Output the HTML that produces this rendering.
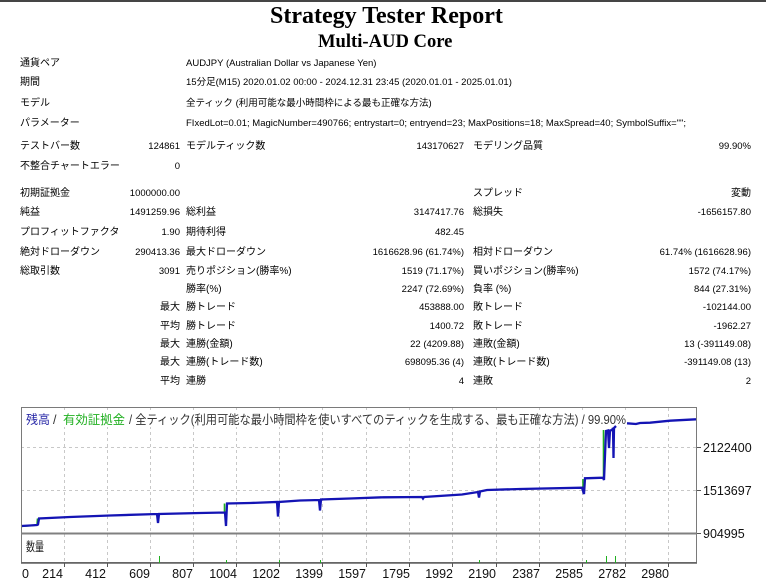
<!DOCTYPE html>
<html>
<head>
<meta charset="utf-8">
<style>
html,body{margin:0;padding:0;background:#fff;}
body{width:766px;height:579px;overflow:hidden;position:relative;font-family:"Liberation Sans","Noto Sans CJK JP",sans-serif;color:#000;}
.t{position:absolute;white-space:nowrap;line-height:12px;height:12px;font-size:10px;}
.n{font-size:9.5px;}
.r{text-align:right;}
#bar{position:absolute;left:0;top:0;width:766px;height:2px;background:#454545;}
.title{position:absolute;font-family:"Liberation Serif","Noto Serif CJK SC",serif;font-weight:bold;white-space:nowrap;}
svg{position:absolute;left:0;top:0;}
</style>
</head>
<body>
<div id="bar"></div>
<div class="title" style="left:270px;top:2px;font-size:24px;line-height:28px;">Strategy Tester Report</div>
<div class="title" style="left:318px;top:31px;font-size:18.6px;line-height:22px;">Multi-AUD Core</div>

<div class="t" style="left:20px;top:58px;">通貨ペア</div>
<div class="t n" style="left:186px;top:58px;">AUDJPY (Australian Dollar vs Japanese Yen)</div>
<div class="t" style="left:20px;top:77px;">期間</div>
<div class="t n" style="left:186px;top:77px;">15分足(M15) 2020.01.02 00:00 - 2024.12.31 23:45 (2020.01.01 - 2025.01.01)</div>
<div class="t" style="left:20px;top:98px;">モデル</div>
<div class="t n" style="left:186px;top:98px;">全ティック (利用可能な最小時間枠による最も正確な方法)</div>
<div class="t" style="left:20px;top:118px;">パラメーター</div>
<div class="t n" style="left:186px;top:118px;">FIxedLot=0.01; MagicNumber=490766; entrystart=0; entryend=23; MaxPositions=18; MaxSpread=40; SymbolSuffix="";</div>

<div class="t" style="left:20px;top:141px;">テストバー数</div>
<div class="t n r" style="right:586px;top:141px;">124861</div>
<div class="t" style="left:186px;top:141px;">モデルティック数</div>
<div class="t n r" style="right:302px;top:141px;">143170627</div>
<div class="t" style="left:473px;top:141px;">モデリング品質</div>
<div class="t n r" style="right:15px;top:141px;">99.90%</div>

<div class="t" style="left:20px;top:161px;">不整合チャートエラー</div>
<div class="t n r" style="right:586px;top:161px;">0</div>

<div class="t" style="left:20px;top:188px;">初期証拠金</div>
<div class="t n r" style="right:586px;top:188px;">1000000.00</div>
<div class="t" style="left:473px;top:188px;">スプレッド</div>
<div class="t r" style="right:15px;top:188px;">変動</div>

<div class="t" style="left:20px;top:207px;">純益</div>
<div class="t n r" style="right:586px;top:207px;">1491259.96</div>
<div class="t" style="left:186px;top:207px;">総利益</div>
<div class="t n r" style="right:302px;top:207px;">3147417.76</div>
<div class="t" style="left:473px;top:207px;">総損失</div>
<div class="t n r" style="right:15px;top:207px;">-1656157.80</div>

<div class="t" style="left:20px;top:227px;">プロフィットファクタ</div>
<div class="t n r" style="right:586px;top:227px;">1.90</div>
<div class="t" style="left:186px;top:227px;">期待利得</div>
<div class="t n r" style="right:302px;top:227px;">482.45</div>

<div class="t" style="left:20px;top:247px;">絶対ドローダウン</div>
<div class="t n r" style="right:586px;top:247px;">290413.36</div>
<div class="t" style="left:186px;top:247px;">最大ドローダウン</div>
<div class="t n r" style="right:302px;top:247px;">1616628.96 (61.74%)</div>
<div class="t" style="left:473px;top:247px;">相対ドローダウン</div>
<div class="t n r" style="right:15px;top:247px;">61.74% (1616628.96)</div>

<div class="t" style="left:20px;top:266px;">総取引数</div>
<div class="t n r" style="right:586px;top:266px;">3091</div>
<div class="t" style="left:186px;top:266px;">売りポジション(勝率%)</div>
<div class="t n r" style="right:302px;top:266px;">1519 (71.17%)</div>
<div class="t" style="left:473px;top:266px;">買いポジション(勝率%)</div>
<div class="t n r" style="right:15px;top:266px;">1572 (74.17%)</div>

<div class="t" style="left:186px;top:284px;">勝率(%)</div>
<div class="t n r" style="right:302px;top:284px;">2247 (72.69%)</div>
<div class="t" style="left:473px;top:284px;">負率 (%)</div>
<div class="t n r" style="right:15px;top:284px;">844 (27.31%)</div>

<div class="t r" style="right:586px;top:302px;">最大</div>
<div class="t" style="left:186px;top:302px;">勝トレード</div>
<div class="t n r" style="right:302px;top:302px;">453888.00</div>
<div class="t" style="left:473px;top:302px;">敗トレード</div>
<div class="t n r" style="right:15px;top:302px;">-102144.00</div>

<div class="t r" style="right:586px;top:321px;">平均</div>
<div class="t" style="left:186px;top:321px;">勝トレード</div>
<div class="t n r" style="right:302px;top:321px;">1400.72</div>
<div class="t" style="left:473px;top:321px;">敗トレード</div>
<div class="t n r" style="right:15px;top:321px;">-1962.27</div>

<div class="t r" style="right:586px;top:339px;">最大</div>
<div class="t" style="left:186px;top:339px;">連勝(金額)</div>
<div class="t n r" style="right:302px;top:339px;">22 (4209.88)</div>
<div class="t" style="left:473px;top:339px;">連敗(金額)</div>
<div class="t n r" style="right:15px;top:339px;">13 (-391149.08)</div>

<div class="t r" style="right:586px;top:357px;">最大</div>
<div class="t" style="left:186px;top:357px;">連勝(トレード数)</div>
<div class="t n r" style="right:302px;top:357px;">698095.36 (4)</div>
<div class="t" style="left:473px;top:357px;">連敗(トレード数)</div>
<div class="t n r" style="right:15px;top:357px;">-391149.08 (13)</div>

<div class="t r" style="right:586px;top:376px;">平均</div>
<div class="t" style="left:186px;top:376px;">連勝</div>
<div class="t n r" style="right:302px;top:376px;">4</div>
<div class="t" style="left:473px;top:376px;">連敗</div>
<div class="t n r" style="right:15px;top:376px;">2</div>

<svg width="766" height="579" viewBox="0 0 766 579" xmlns="http://www.w3.org/2000/svg">
  <g stroke="#c8c8c8" stroke-width="1" stroke-dasharray="3,3" fill="none">
    <line x1="21" y1="447.5" x2="697" y2="447.5"/>
    <line x1="21" y1="490.5" x2="697" y2="490.5"/>
    <line x1="64.5" y1="408" x2="64.5" y2="563"/>
    <line x1="107.5" y1="408" x2="107.5" y2="563"/>
    <line x1="150.5" y1="408" x2="150.5" y2="563"/>
    <line x1="193.5" y1="408" x2="193.5" y2="563"/>
    <line x1="236.5" y1="408" x2="236.5" y2="563"/>
    <line x1="279.5" y1="408" x2="279.5" y2="563"/>
    <line x1="322.5" y1="408" x2="322.5" y2="563"/>
    <line x1="366.5" y1="408" x2="366.5" y2="563"/>
    <line x1="409.5" y1="408" x2="409.5" y2="563"/>
    <line x1="452.5" y1="408" x2="452.5" y2="563"/>
    <line x1="496.5" y1="408" x2="496.5" y2="563"/>
    <line x1="539.5" y1="408" x2="539.5" y2="563"/>
    <line x1="582.5" y1="408" x2="582.5" y2="563"/>
    <line x1="625.5" y1="408" x2="625.5" y2="563"/>
    <line x1="668.5" y1="408" x2="668.5" y2="563"/>
  </g>

  <rect x="24" y="410" width="604" height="17" fill="#fff"/>
  <g font-family="Liberation Sans, Noto Sans CJK JP, sans-serif" font-size="12.5">
    <text x="26" y="424" fill="#2a2aa8" textLength="24" lengthAdjust="spacingAndGlyphs">残高</text>
    <text x="53" y="424" fill="#333">/</text>
    <text x="63" y="424" fill="#22b022" textLength="62" lengthAdjust="spacingAndGlyphs">有効証拠金</text>
    <text x="129" y="424" fill="#333" textLength="497" lengthAdjust="spacingAndGlyphs">/ 全ティック(利用可能な最小時間枠を使いすべてのティックを生成する、最も正確な方法) / 99.90%</text>
  </g>

  <g stroke="#1cb01c" stroke-width="1.6" fill="none">
    <path d="M21,526.5 L37,525 L37.5,518.5"/>
    <path d="M224.5,513 L224.5,503.5"/>
    <path d="M583,488 L583,479"/>
    <path d="M603.5,477 L603.5,430"/>
    <path d="M158.5,514 L158.5,521"/>
  </g>
  <g stroke="#1414b4" stroke-width="2.3" fill="none" stroke-linejoin="miter">
    <path d="M21,526 L30,525.5 L37,525 L38,524.5 L39,518.5 L70,517 L110,515.5 L157,514 L158,523 L159,514 L200,513 L225,512.5 L226,526 L227,503.5 L250,503 L277,502 L278,516.5 L279,502 L300,500.5 L319,500 L320,510.5 L321,499.5 L350,498.5 L383,497.3 L422,497 L423,498.5 L424,497 L462,494.5 L478,492 L479,497.5 L480,491.5 L487,490 L520,489 L582,487.7 L584,494 L585,478.3 L603,477.7 L604,480 L606,431 L608,430.5 L609,448 L610,430.5 L612,430 L613,428 L613.5,458 L614,428 L616,426"/>
    <path d="M627,423.3 L636,424 L640,423 L650,422.7 L670,420.7 L696,419.3"/>
  </g>

  <rect x="21.5" y="407.5" width="675" height="155" fill="none" stroke="#7a7a7a" stroke-width="1"/>
  <line x1="21" y1="533.5" x2="697" y2="533.5" stroke="#808080" stroke-width="2"/>
  <line x1="21" y1="563" x2="697" y2="563" stroke="#606060" stroke-width="1.5"/>

  <g stroke="#20b020" stroke-width="1">
    <line x1="159.5" y1="556" x2="159.5" y2="563"/>
    <line x1="226.5" y1="560" x2="226.5" y2="563"/>
    <line x1="279.5" y1="560" x2="279.5" y2="563"/>
    <line x1="320.5" y1="560" x2="320.5" y2="563"/>
    <line x1="479.5" y1="560" x2="479.5" y2="563"/>
    <line x1="586.5" y1="560" x2="586.5" y2="563"/>
    <line x1="606.5" y1="556" x2="606.5" y2="563"/>
    <line x1="615.5" y1="556" x2="615.5" y2="563"/>
  </g>
  <text x="26" y="551" font-family="Liberation Sans, Noto Sans CJK JP, sans-serif" font-size="12.5" fill="#222" textLength="18" lengthAdjust="spacingAndGlyphs">数量</text>

  <g stroke="#555" stroke-width="1">
    <line x1="697" y1="447.5" x2="701" y2="447.5"/>
    <line x1="697" y1="490.5" x2="701" y2="490.5"/>
    <line x1="697" y1="533.5" x2="701" y2="533.5"/>
  </g>
  <g font-family="Liberation Sans, sans-serif" font-size="12.5" fill="#111">
    <text x="703" y="452">2122400</text>
    <text x="703" y="495">1513697</text>
    <text x="703" y="538">904995</text>
  </g>

  <g stroke="#555" stroke-width="1">
    <line x1="64.5" y1="563" x2="64.5" y2="567"/>
    <line x1="107.5" y1="563" x2="107.5" y2="567"/>
    <line x1="150.5" y1="563" x2="150.5" y2="567"/>
    <line x1="193.5" y1="563" x2="193.5" y2="567"/>
    <line x1="236.5" y1="563" x2="236.5" y2="567"/>
    <line x1="279.5" y1="563" x2="279.5" y2="567"/>
    <line x1="322.5" y1="563" x2="322.5" y2="567"/>
    <line x1="366.5" y1="563" x2="366.5" y2="567"/>
    <line x1="409.5" y1="563" x2="409.5" y2="567"/>
    <line x1="452.5" y1="563" x2="452.5" y2="567"/>
    <line x1="496.5" y1="563" x2="496.5" y2="567"/>
    <line x1="539.5" y1="563" x2="539.5" y2="567"/>
    <line x1="582.5" y1="563" x2="582.5" y2="567"/>
    <line x1="625.5" y1="563" x2="625.5" y2="567"/>
    <line x1="668.5" y1="563" x2="668.5" y2="567"/>
  </g>
  <text x="22" y="578" font-family="Liberation Sans, sans-serif" font-size="12.5" fill="#111">0</text>
  <g font-family="Liberation Sans, sans-serif" font-size="12.5" fill="#111" text-anchor="end">
    <text x="63" y="578">214</text>
    <text x="106" y="578">412</text>
    <text x="150" y="578">609</text>
    <text x="193" y="578">807</text>
    <text x="237" y="578">1004</text>
    <text x="280" y="578">1202</text>
    <text x="323" y="578">1399</text>
    <text x="366" y="578">1597</text>
    <text x="410" y="578">1795</text>
    <text x="453" y="578">1992</text>
    <text x="496" y="578">2190</text>
    <text x="540" y="578">2387</text>
    <text x="583" y="578">2585</text>
    <text x="626" y="578">2782</text>
    <text x="669" y="578">2980</text>
  </g>
</svg>
</body>
</html>
